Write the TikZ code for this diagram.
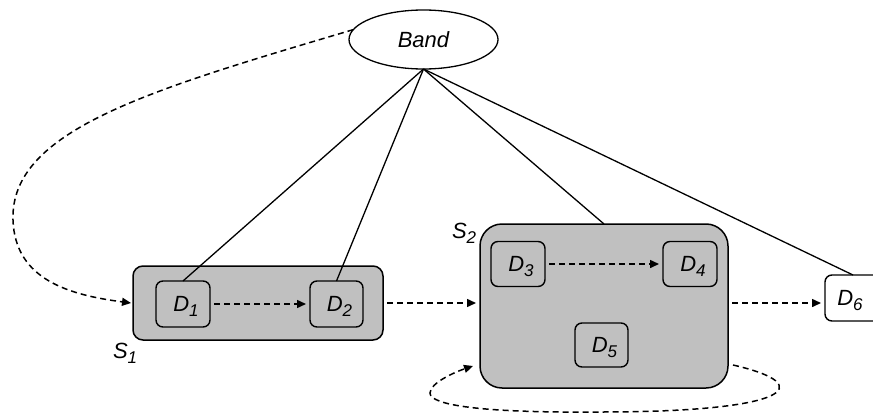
\documentclass[tikz,border=0pt]{standalone}
\usepackage{fontspec}
\setmainfont{Liberation Sans}
\usetikzlibrary{arrows.meta,shapes.geometric}
\definecolor{boxgray}{HTML}{C0C0C0}
\newcommand\subl[2]{{\itshape #1}\smash{\raisebox{-5pt}{\fontsize{17}{17}\selectfont\itshape #2}}}
\newcommand\dlab[1]{\hspace*{6pt}\subl{D}{#1}}
\begin{document}
\begin{tikzpicture}[x=1pt,y=-1pt,
  font=\fontsize{22}{26}\selectfont,
  every node/.style={inner sep=0pt, outer sep=0pt},
  grp/.style={draw=black, line width=1.5pt, fill=boxgray},
  dbox/.style={draw=black, line width=1.4pt, rounded corners=7pt},
  tie/.style={line width=1.3pt},
  flow/.style={line width=1.5pt, dash pattern=on 6pt off 4pt,
    -{Triangle[length=9pt,width=8pt]}, shorten <=4pt, shorten >=4pt},
  curv/.style={line width=1.5pt, dash pattern=on 6pt off 4pt,
    -{Triangle[length=9pt,width=8pt]}}
]
\useasboundingbox (0,0) rectangle (873,415);
% groups
\node[grp, rounded corners=10pt, minimum width=250pt, minimum height=74pt] (S1) at (258,303) {};
\node[grp, rounded corners=22pt, minimum width=248pt, minimum height=164pt] (S2) at (604,306) {};
% inner boxes
\node[dbox, fill=boxgray, minimum width=54pt, minimum height=46pt] (D1) at (183,304) {\dlab{1}};
\node[dbox, fill=boxgray, minimum width=53pt, minimum height=46pt] (D2) at (336.5,304) {\dlab{2}};
\node[dbox, fill=boxgray, minimum width=54pt, minimum height=45pt] (D3) at (518,264) {\dlab{3}};
\node[dbox, fill=boxgray, minimum width=54pt, minimum height=45pt] (D4) at (690,264) {\dlab{4}};
\node[dbox, fill=boxgray, minimum width=53pt, minimum height=44pt] (D5) at (601.5,345) {\dlab{5}};
\node[dbox, fill=white, minimum width=56pt, minimum height=46pt] (D6) at (853,298) {\hspace*{-6pt}\subl{D}{6}};
% band
\node[ellipse, draw=black, line width=1.3pt, fill=white, minimum width=149pt, minimum height=59pt] (Band) at (423.5,39.5) {\itshape Band};
% group labels
\node[anchor=base west] (L1) at (113,358) {\subl{S}{1}};
\node[anchor=base west] (L2) at (452,238) {\subl{S}{2}};
% ties
\draw[tie] (Band.south) -- (D1.north);
\draw[tie] (Band.south) -- (D2.north);
\draw[tie] (Band.south) -- (S2.north);
\draw[tie] (Band.south) -- (D6.north);
% flows
\draw[flow] (D1.east) -- (D2.west);
\draw[flow] (D3.east) -- (D4.west);
\draw[flow] (S1.east) -- (S1.east -| S2.west);
\draw[flow] (S2.east |- S1.east) -- (D6.west |- S1.east);
% curved flows
\coordinate (bs) at (Band.172);
\coordinate (lp1) at ([shift={(5,-23)}]S2.south east);
\coordinate (lp2) at ([shift={(-7,-22)}]S2.south west);
\draw[curv] (bs) .. controls (150,90) and (10,130) .. (13,220)
  .. controls (15,280) and (70,295) .. ([xshift=-2pt]S1.west);
\draw[curv] (lp1) .. controls (820,385) and (790,412) .. (600,412)
  .. controls (480,413) and (430,405) .. (430,393)
  .. controls (430,383) and (455,372) .. (lp2);
\end{tikzpicture}
\end{document}
